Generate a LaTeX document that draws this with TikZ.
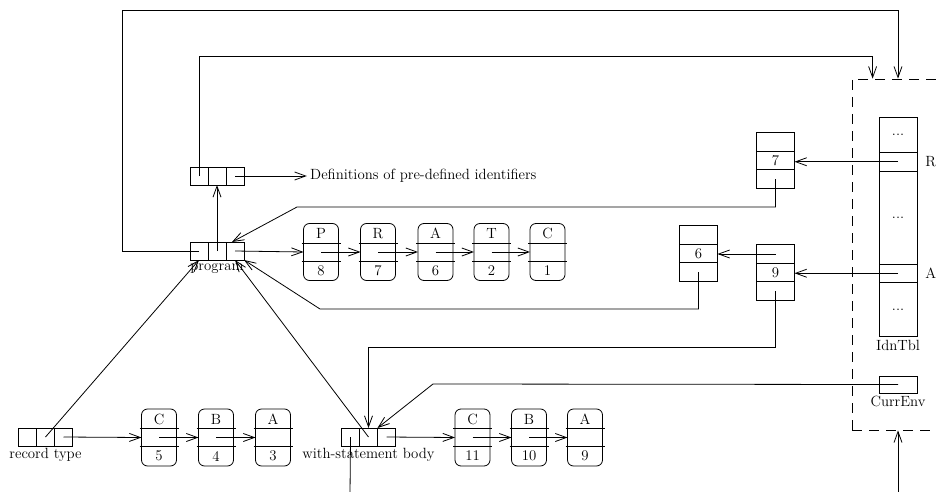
\documentclass[tikz,border=0pt]{standalone}
\usepackage{amsmath}
\usetikzlibrary{matrix,positioning,arrows.meta}

\tikzset{
  cell/.style={draw, minimum width=18pt, minimum height=18pt, inner sep=0pt, outer sep=0pt},
  vcell/.style={draw, minimum width=38pt, minimum height=18.5pt, inner sep=0pt, outer sep=0pt},
  ptr/.style={matrix of nodes, nodes in empty cells, nodes={cell}, column sep=-\pgflinewidth, inner sep=0pt},
  slot/.style={matrix of nodes, nodes in empty cells, nodes={vcell}, row sep=-\pgflinewidth, inner sep=0pt},
  entrybox/.style={draw, rounded corners=6pt, minimum width=35pt, minimum height=57pt, inner sep=0pt, outer sep=0pt},
}
% one entry of an identifier list: name, position, letter, number
\newcommand\listentry[4]{%
  \node (#1) [entrybox] at (#2) {};
  \node at ([yshift=18.5pt]#1.center) {#3};
  \node at ([yshift=-18.5pt]#1.center) {#4};
  \draw ([shift={(-2pt,9pt)}]#1.west) -- ([shift={(2pt,9pt)}]#1.east)
        ([shift={(-2pt,-9pt)}]#1.west) -- ([shift={(2pt,-9pt)}]#1.east);
}

\begin{document}
\begin{tikzpicture}[x=1pt, y=-1pt, line width=0.8pt, >={Straight Barb[length=11pt,width=8pt]},
    font=\fontsize{14.8}{17}\selectfont]
    \useasboundingbox (0,0) rectangle (936,492);

    % pointer boxes
    \node (pre) [ptr] at (217,176) { & & \\ };
    \node (prog) [ptr] at (217,251) { & & \\ };
    \node (rec) [ptr] at (45.5,437) { & & \\ };
    \node (with) [ptr] at (368.5,437) { & & \\ };
    \node (progl) [below=3pt of prog, inner sep=0pt] {program};
    \node (recl) [below=1pt of rec, inner sep=0pt] {record type};
    \node (withl) [below=1pt of with, inner sep=0pt] {with-statement body};
    \node (defs) [right=62pt of pre, inner sep=3pt] {Definitions of pre-defined identifiers};

    % identifier lists
    \listentry{pP}{321,252}{P}{8}
    \listentry{pR}{378,252}{R}{7}
    \listentry{pA}{435.5,252}{A}{6}
    \listentry{pT}{491.5,252}{T}{2}
    \listentry{pC}{547.5,252}{C}{1}
    \listentry{rC}{159,437.5}{C}{5}
    \listentry{rB}{216,437.5}{B}{4}
    \listentry{rA}{273,437.5}{A}{3}
    \listentry{wC}{472.5,437.5}{C}{11}
    \listentry{wB}{529,437.5}{B}{10}
    \listentry{wA}{585,437.5}{A}{9}

    % definition records
    \node (b7) [slot] at (775.5,160.5) { \\ 7 \\ \\ };
    \node (b6) [slot] at (698.5,253.5) { \\ 6 \\ \\ };
    \node (b9) [slot] at (775.5,272.5) { \\ 9 \\ \\ };

    % environment
    \node (env) [draw, dash pattern=on 10pt off 7pt, minimum width=130pt, minimum height=351pt] at (917,254.5) {};
    \node (idn) [slot] at (898,227) {
        |[minimum height=35pt]| ... \\
        \\
        |[minimum height=93pt]| ... \\
        \\
        |[minimum height=54pt]| ... \\ };
    \node (idnl) [below=3pt of idn, inner sep=0pt] {IdnTbl};
    \node (rl) [right=8pt of idn-2-1, inner sep=0pt] {R};
    \node (al) [right=8pt of idn-4-1, inner sep=0pt] {A};
    \node (cur) [draw, minimum width=38pt, minimum height=17pt] at (898,384.5) {};
    \node (curl) [below=2pt of cur, inner sep=0pt] {CurrEnv};
    \coordinate (envin) at (898,495);
    \coordinate (wout) at (350,495);

    % connectors
    \draw [->] (prog-1-1.center) -| (122,10) -| (idn.north |- env.north);
    \draw [->] (pre-1-1.center) -- ++(0,-120) -| ([xshift=21pt]env.north west);
    \draw [->] (prog-1-2.center) -- (pre-1-2.south);
    \draw [->] (pre-1-3.center) -- (defs.west);
    \draw [->] (prog-1-3.center) -- (pP.west);
    \draw [->] (pP.center) -- (pR.west);
    \draw [->] (pR.center) -- (pA.west);
    \draw [->] (pA.center) -- (pT.west);
    \draw [->] (pT.center) -- (pC.west);
    \draw [->] (rec-1-3.center) -- (rC.west);
    \draw [->] (rC.center) -- (rB.west);
    \draw [->] (rB.center) -- (rA.west);
    \draw [->] (with-1-3.center) -- (wC.west);
    \draw [->] (wC.center) -- (wB.west);
    \draw [->] (wB.center) -- (wA.west);
    \draw [->] (rec-1-2.center) -- (prog-1-1.south);
    \draw [->] (with-1-2.center) -- (prog-1-3.south);
    \draw [->] (b7-3-1.center) |- (297,207) -- ([xshift=-3pt]prog-1-3.north);
    \draw [->] (b6-3-1.center) |- (320,309) -- (prog-1-3.south east);
    \draw [->] (idn-2-1.center) -- (idn-2-1.center -| b7-2-1.east);
    \draw [->] (idn-4-1.center) -- (idn-4-1.center -| b9-2-1.east);
    \draw [->] (b9-1-1.center) -- (b9-1-1.center -| b6-2-1.east);
    \draw [->] (b9-3-1.center) -- ++(0,56) -| (with-1-2.north);
    \draw [->] (cur.center) -- (433,384) -- (with-1-3.north west);
    \draw (with-1-1.center) -- (wout);
    \draw [->] (envin) -- (envin |- env.south);
\end{tikzpicture}
\end{document}
